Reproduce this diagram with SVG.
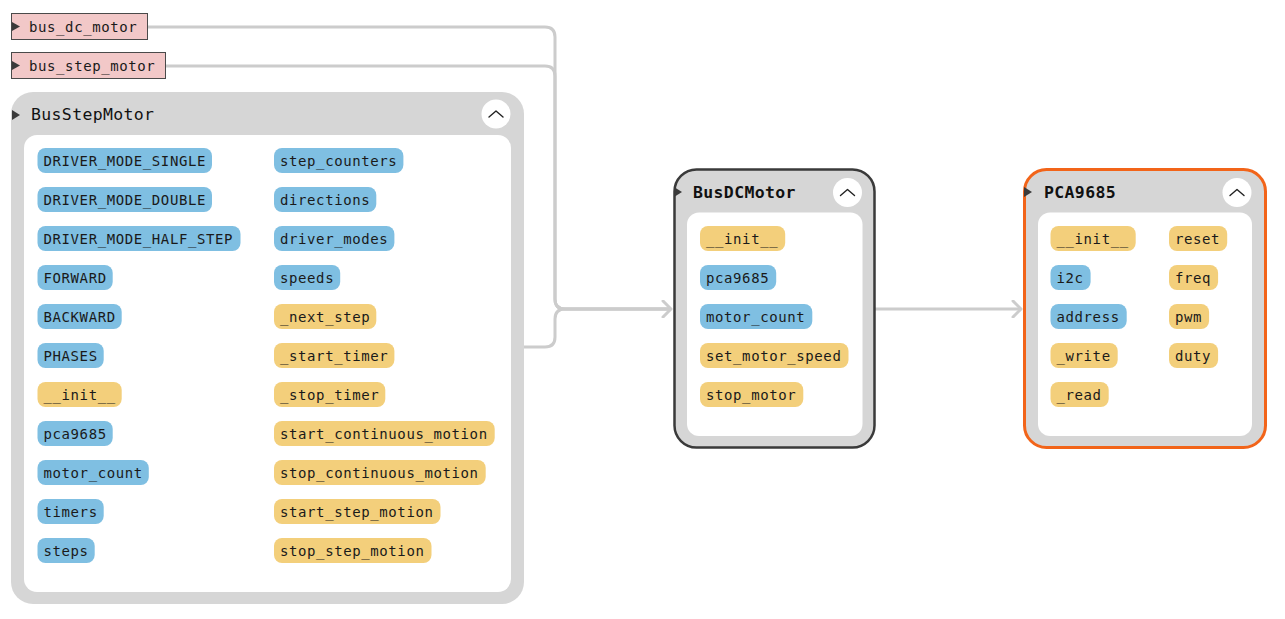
<svg xmlns="http://www.w3.org/2000/svg" width="1285" height="619" viewBox="0 0 1285 619">
<style>
.t{font-family:"DejaVu Sans Mono","Liberation Mono",monospace;font-size:14px;letter-spacing:0.6px;fill:#1a1a1a}
.title{font-family:"DejaVu Sans Mono","Liberation Mono",monospace;font-size:16.5px;letter-spacing:0.35px;fill:#111}
.bold{font-weight:bold}
.b{fill:#7fbfe2}
.y{fill:#f3cf7b}
.panel{fill:#d6d6d6}
.inner{fill:#ffffff}
.lbl{fill:#f2c8c8;stroke:#4a4a4a;stroke-width:1}
.tri{fill:#3a3a3a}
.btn{fill:#ffffff}
.chev{fill:none;stroke:#222;stroke-width:1.4;stroke-linecap:round;stroke-linejoin:round}
.edge{fill:none;stroke:#cccccc;stroke-width:3;stroke-linejoin:round}
</style>
<defs>
<marker id="arr" viewBox="0 0 12 18" refX="10" refY="9" markerWidth="12" markerHeight="18" markerUnits="userSpaceOnUse" orient="auto">
<path d="M2,1 L10,9 L2,17" fill="none" stroke="#cccccc" stroke-width="3" stroke-linecap="round" stroke-linejoin="round"/>
</marker>
</defs>
<rect width="1285" height="619" fill="#ffffff"/>

<g id="connectors">
<path class="edge" d="M148,27 H545 Q555,27 555,37 V299 Q555,309 565,309 H671" marker-end="url(#arr)"/>
<path class="edge" d="M166,66 H545 Q555,66 555,76 V299 Q555,309 565,309 H671"/>
<path class="edge" d="M524,347 H545 Q555,347 555,337 V319 Q555,309 565,309 H671"/>
<path class="edge" d="M875,309 H1021" marker-end="url(#arr)"/>
</g>

<g id="bus_dc_motor">
<rect class="lbl" x="11.5" y="13.5" width="136" height="26"/>
<path class="tri" d="M12,22 L20,26.5 L12,31 Z"/>
<text class="t" x="29" y="31.5">bus_dc_motor</text>
</g>

<g id="bus_step_motor">
<rect class="lbl" x="11.5" y="52.5" width="154" height="26"/>
<path class="tri" d="M12,61 L20,65.5 L12,70 Z"/>
<text class="t" x="29" y="70.5">bus_step_motor</text>
</g>

<g id="BusStepMotor">
<rect class="panel" x="11" y="92" width="513" height="512" rx="22"/>
<rect class="inner" x="24" y="135" width="487" height="457" rx="13"/>
<path class="tri" d="M12,110 L20,115 L12,120 Z"/>
<text class="title" x="31" y="120">BusStepMotor</text>
<circle class="btn" cx="496" cy="114" r="14.5"/>
<polyline class="chev" points="489,117 496,111 503,117"/>
<rect class="b" x="37.5" y="148" width="174.5" height="25" rx="8"/><text class="t" x="43.5" y="165.5">DRIVER_MODE_SINGLE</text>
<rect class="b" x="37.5" y="187" width="174.5" height="25" rx="8"/><text class="t" x="43.5" y="204.5">DRIVER_MODE_DOUBLE</text>
<rect class="b" x="37.5" y="226" width="203" height="25" rx="8"/><text class="t" x="43.5" y="243.5">DRIVER_MODE_HALF_STEP</text>
<rect class="b" x="37.5" y="265" width="75.2" height="25" rx="8"/><text class="t" x="43.5" y="282.5">FORWARD</text>
<rect class="b" x="37.5" y="304" width="84.2" height="25" rx="8"/><text class="t" x="43.5" y="321.5">BACKWARD</text>
<rect class="b" x="37.5" y="343" width="66.2" height="25" rx="8"/><text class="t" x="43.5" y="360.5">PHASES</text>
<rect class="y" x="37.5" y="382" width="84.2" height="25" rx="8"/><text class="t" x="43.5" y="399.5">__init__</text>
<rect class="b" x="37.5" y="421" width="75.2" height="25" rx="8"/><text class="t" x="43.5" y="438.5">pca9685</text>
<rect class="b" x="37.5" y="460" width="111.3" height="25" rx="8"/><text class="t" x="43.5" y="477.5">motor_count</text>
<rect class="b" x="37.5" y="499" width="66.2" height="25" rx="8"/><text class="t" x="43.5" y="516.5">timers</text>
<rect class="b" x="37.5" y="538" width="57.2" height="25" rx="8"/><text class="t" x="43.5" y="555.5">steps</text>
<rect class="b" x="274" y="148" width="129.4" height="25" rx="8"/><text class="t" x="280" y="165.5">step_counters</text>
<rect class="b" x="274" y="187" width="102.3" height="25" rx="8"/><text class="t" x="280" y="204.5">directions</text>
<rect class="b" x="274" y="226" width="120.4" height="25" rx="8"/><text class="t" x="280" y="243.5">driver_modes</text>
<rect class="b" x="274" y="265" width="66.2" height="25" rx="8"/><text class="t" x="280" y="282.5">speeds</text>
<rect class="y" x="274" y="304" width="102.3" height="25" rx="8"/><text class="t" x="280" y="321.5">_next_step</text>
<rect class="y" x="274" y="343" width="120.4" height="25" rx="8"/><text class="t" x="280" y="360.5">_start_timer</text>
<rect class="y" x="274" y="382" width="111.3" height="25" rx="8"/><text class="t" x="280" y="399.5">_stop_timer</text>
<rect class="y" x="274" y="421" width="220.7" height="25" rx="8"/><text class="t" x="280" y="438.5">start_continuous_motion</text>
<rect class="y" x="274" y="460" width="211.7" height="25" rx="8"/><text class="t" x="280" y="477.5">stop_continuous_motion</text>
<rect class="y" x="274" y="499" width="166.5" height="25" rx="8"/><text class="t" x="280" y="516.5">start_step_motion</text>
<rect class="y" x="274" y="538" width="157.5" height="25" rx="8"/><text class="t" x="280" y="555.5">stop_step_motion</text>
</g>

<g id="BusDCMotor">
<rect class="panel" x="674.5" y="169.5" width="200" height="278" rx="22" stroke="#3a3a3a" stroke-width="2.5"/>
<rect class="inner" x="687" y="212.5" width="175.5" height="223.5" rx="12"/>
<path class="tri" d="M674,187 L682,192 L674,197 Z"/>
<text class="title bold" x="693" y="198">BusDCMotor</text>
<circle class="btn" cx="847.5" cy="192.5" r="14.5"/>
<polyline class="chev" points="840.5,195.5 847.5,189.5 854.5,195.5"/>
<rect class="y" x="700" y="226" width="85.2" height="25" rx="8"/><text class="t" x="706" y="243.5">__init__</text>
<rect class="b" x="700" y="265" width="76.2" height="25" rx="8"/><text class="t" x="706" y="282.5">pca9685</text>
<rect class="b" x="700" y="304" width="112.3" height="25" rx="8"/><text class="t" x="706" y="321.5">motor_count</text>
<rect class="y" x="700" y="343" width="148.5" height="25" rx="8"/><text class="t" x="706" y="360.5">set_motor_speed</text>
<rect class="y" x="700" y="382" width="103.3" height="25" rx="8"/><text class="t" x="706" y="399.5">stop_motor</text>
</g>

<g id="PCA9685">
<rect class="panel" x="1024.5" y="169.5" width="241" height="278" rx="22" stroke="#f26419" stroke-width="3"/>
<rect class="inner" x="1038" y="212.5" width="214" height="223.5" rx="12"/>
<path class="tri" d="M1024,187 L1032,192 L1024,197 Z"/>
<text class="title bold" x="1044" y="198">PCA9685</text>
<circle class="btn" cx="1237" cy="192.5" r="14.5"/>
<polyline class="chev" points="1230,195.5 1237,189.5 1244,195.5"/>
<rect class="y" x="1050.5" y="226" width="85.2" height="25" rx="8"/><text class="t" x="1056.5" y="243.5">__init__</text>
<rect class="b" x="1050.5" y="265" width="40.1" height="25" rx="8"/><text class="t" x="1056.5" y="282.5">i2c</text>
<rect class="b" x="1050.5" y="304" width="76.2" height="25" rx="8"/><text class="t" x="1056.5" y="321.5">address</text>
<rect class="y" x="1050.5" y="343" width="67.2" height="25" rx="8"/><text class="t" x="1056.5" y="360.5">_write</text>
<rect class="y" x="1050.5" y="382" width="58.2" height="25" rx="8"/><text class="t" x="1056.5" y="399.5">_read</text>
<rect class="y" x="1169" y="226" width="58.2" height="25" rx="8"/><text class="t" x="1175" y="243.5">reset</text>
<rect class="y" x="1169" y="265" width="49.1" height="25" rx="8"/><text class="t" x="1175" y="282.5">freq</text>
<rect class="y" x="1169" y="304" width="40.1" height="25" rx="8"/><text class="t" x="1175" y="321.5">pwm</text>
<rect class="y" x="1169" y="343" width="49.1" height="25" rx="8"/><text class="t" x="1175" y="360.5">duty</text>
</g>
</svg>
